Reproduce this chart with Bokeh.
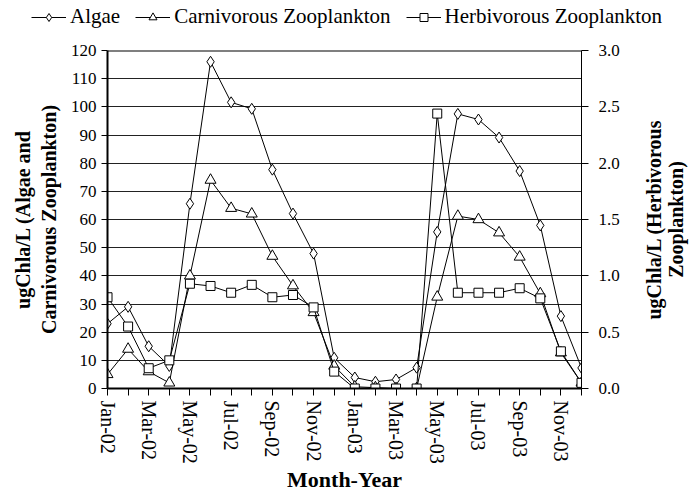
import math
from bokeh.plotting import figure
from bokeh.models import (Range1d, LinearAxis, FixedTicker, Legend, LegendItem, Span, Label)
from bokeh.embed import file_html
from bokeh.resources import INLINE

months = ["Jan-02", "Feb-02", "Mar-02", "Apr-02", "May-02", "Jun-02", "Jul-02", "Aug-02",
          "Sep-02", "Oct-02", "Nov-02", "Dec-02", "Jan-03", "Feb-03", "Mar-03", "Apr-03",
          "May-03", "Jun-03", "Jul-03", "Aug-03", "Sep-03", "Oct-03", "Nov-03", "Dec-03"]
algae = [23, 29, 15, 8, 65.6, 116, 101.6, 99.3, 77.7, 62.1, 47.9, 10.9,
         3.9, 2.4, 3.2, 7.4, 55.6, 97.5, 95.5, 89.1, 77.2, 57.9, 25.7, 7.3]
carnivorous = [5, 14, 6, 2, 40, 74, 64, 62, 47, 36.5, 27, 8,
               0.6, 0.3, 0, 0, 32.5, 61.2, 60, 55.3, 46.7, 33.7, 12.7, 2]
herbivorous = [0.81, 0.55, 0.18, 0.25, 0.93, 0.91, 0.85, 0.92, 0.81, 0.83, 0.72, 0.15,
               0.0, 0.0, 0.0, 0.0, 2.44, 0.85, 0.85, 0.85, 0.89, 0.80, 0.33, 0.05]
series_names = ["Algae", "Carnivorous Zooplankton", "Herbivorous Zooplankton"]
left_ticks = list(range(0, 121, 10))
right_ticks = [0.0, 0.5, 1.0, 1.5, 2.0, 2.5, 3.0]
right_title_lines = ["ugChla/L (Herbivorous", "Zooplankton)"]

FONT = "Liberation Serif"
x = list(range(len(months)))
line_kw = dict(line_color="black", line_width=1)
mk_kw = dict(fill_color="white", line_color="black")
markers = [("diamond", 11), ("triangle", 11), ("square", 9)]

# ---------------- main chart ----------------
p = figure(width=690, height=460, output_backend="svg", toolbar_location=None,
           x_range=Range1d(0, len(months) - 1), y_range=Range1d(0, 120),
           min_border_left=107, min_border_right=109, min_border_top=16, min_border_bottom=106)
p.outline_line_color = None
p.background_fill_color = "white"
p.border_fill_color = "white"
p.extra_y_ranges = {"right": Range1d(0, 3)}

p.xgrid.grid_line_color = None
p.ygrid.ticker = FixedTicker(ticks=left_ticks)
p.ygrid.grid_line_color = "#222222"
p.ygrid.grid_line_width = 1
p.add_layout(Span(location=120, dimension="width", line_color="black", line_width=2))

xa = p.xaxis[0]
xa.ticker = FixedTicker(ticks=x)
xa.major_label_overrides = {i: (m if i % 2 == 0 else "") for i, m in enumerate(months)}
xa.major_label_orientation = "vertical"
xa.major_label_text_font = FONT
xa.major_label_text_font_size = "20px"
xa.major_label_text_color = "black"
xa.major_label_standoff = 5
xa.axis_line_width = 2
xa.axis_line_color = "black"
xa.major_tick_out = 7
xa.major_tick_in = 0
xa.major_tick_line_color = "black"
xa.minor_tick_line_color = None
xa.axis_label = "Month-Year"
xa.axis_label_text_font = FONT
xa.axis_label_text_font_style = "bold"
xa.axis_label_text_font_size = "22px"
xa.axis_label_text_color = "black"
xa.axis_label_standoff = 0

ya = p.yaxis[0]
ya.ticker = FixedTicker(ticks=left_ticks)
ya.major_label_text_font = FONT
ya.major_label_text_font_size = "17px"
ya.major_label_text_color = "black"
ya.major_label_standoff = 5
ya.axis_line_width = 2
ya.axis_line_color = "black"
ya.major_tick_out = 6
ya.major_tick_in = 0
ya.major_tick_line_color = "black"
ya.minor_tick_line_color = None
ya.axis_label = "ugChla/L (Algae and\nCarnivorous Zooplankton)"
ya.axis_label_text_font = FONT
ya.axis_label_text_font_style = "bold"
ya.axis_label_text_font_size = "20px"
ya.axis_label_text_color = "black"
ya.axis_label_standoff = 8

ra = LinearAxis(y_range_name="right", ticker=FixedTicker(ticks=right_ticks))
ra.major_label_overrides = {t: f"{t:.1f}" for t in right_ticks}
ra.major_label_text_font = FONT
ra.major_label_text_font_size = "17px"
ra.major_label_text_color = "black"
ra.major_label_standoff = 10
ra.axis_line_width = 1
ra.axis_line_color = "black"
ra.major_tick_out = 7
ra.major_tick_in = 0
ra.major_tick_line_color = "black"
ra.minor_tick_line_color = None
p.add_layout(ra, "right")

# right-hand title, reading bottom-to-top like the left one
for txt, off in zip(right_title_lines, [72, 94]):
    p.add_layout(Label(x=len(months) - 1, y=60, x_offset=off, text=txt, angle=math.pi / 2,
                       text_align="center", text_baseline="middle", text_font=FONT,
                       text_font_style="bold", text_font_size="20px", text_color="black"),
                 "right")

renderers = []
for vals, (mk, sz), rng in zip([algae, carnivorous, herbivorous], markers,
                               ["default", "default", "right"]):
    rl = p.line(x, vals, y_range_name=rng, **line_kw)
    rm = p.scatter(x, vals, marker=mk, size=sz, y_range_name=rng, **mk_kw)
    renderers.append((rl, rm))

# ---------------- legend strip ----------------
lf = figure(width=690, height=34, output_backend="svg", toolbar_location=None,
            x_range=Range1d(0, len(months) - 1), y_range=Range1d(1000, 1001),
            x_axis_location=None, y_axis_location=None,
            min_border_left=0, min_border_right=0, min_border_top=0, min_border_bottom=0)
lf.outline_line_color = None
lf.xgrid.visible = False
lf.ygrid.visible = False
items = []
for name, vals, (mk, sz) in zip(series_names, [algae, carnivorous, herbivorous], markers):
    rl = lf.line(x, vals, **line_kw)
    rm = lf.scatter(x, vals, marker=mk, size=sz, **mk_kw)
    items.append(LegendItem(label=name, renderers=[rl, rm]))
legend = Legend(items=items, orientation="horizontal", location=(31, 5))
legend.border_line_color = None
legend.background_fill_alpha = 0
legend.label_text_font = FONT
legend.label_text_font_size = "21px"
legend.label_text_color = "black"
legend.glyph_width = 35
legend.label_standoff = 4
legend.spacing = 15
legend.padding = 0
legend.margin = 0
lf.add_layout(legend, "center")

open("out.html", "w").write(file_html([lf, p], INLINE))
